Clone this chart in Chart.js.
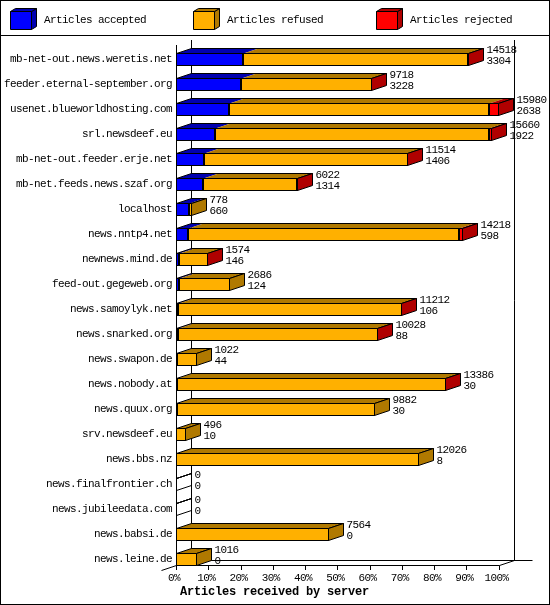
<!DOCTYPE html>
<html lang="en">
<head>
    <meta charset="UTF-8">
    <title>Articles received by server</title>
    <script src="https://cdn.jsdelivr.net/npm/chart.js"></script>
    <style>
        html, body { margin: 0; padding: 0; background: white; }
        canvas { display: block; }
    </style>
</head>
<body>
    <canvas id="serverChart" width="550" height="605" style="width:550px;height:605px"></canvas>

    <script>
        const servers = [
            'mb-net-out.news.weretis.net', 'feeder.eternal-september.org', 'usenet.blueworldhosting.com',
            'srl.newsdeef.eu', 'mb-net-out.feeder.erje.net', 'mb-net.feeds.news.szaf.org', 'localhost',
            'news.nntp4.net', 'newnews.mind.de', 'feed-out.gegeweb.org', 'news.samoylyk.net',
            'news.snarked.org', 'news.swapon.de', 'news.nobody.at', 'news.quux.org', 'srv.newsdeef.eu',
            'news.bbs.nz', 'news.finalfrontier.ch', 'news.jubileedata.com', 'news.babsi.de', 'news.leine.de'
        ];
        const accepted = [3304, 3228, 2638, 1922, 1406, 1314, 660, 598, 146, 124, 106, 88, 44, 30, 30, 10, 8, 0, 0, 0, 0];
        const refused = [11174, 6460, 12882, 13588, 10078, 4683, 118, 13420, 1416, 2562, 11090, 9928, 978, 13346, 9852, 486, 12018, 0, 0, 7564, 1016];
        const rejected = [40, 30, 460, 150, 30, 25, 0, 200, 12, 0, 16, 12, 0, 10, 0, 0, 0, 0, 0, 0, 0];
        const totals = [14518, 9718, 15980, 15660, 11514, 6022, 778, 14218, 1574, 2686, 11212, 10028, 1022, 13386, 9882, 496, 12026, 0, 0, 7564, 1016];
        const percentLabels = ['0%', '10%', '20%', '30%', '40%', '50%', '60%', '70%', '80%', '90%', '100%'];
        const axisTitle = 'Articles received by server';

        const FONT = '11px "Liberation Mono"';
        const BOLD_FONT = 'bold 12px "Liberation Mono"';
        const DEPTH_X = 15;
        const DEPTH_Y = 5;
        const dark = { '#0000ff': '#0000b0', '#ffb000': '#b07900', '#ff0000': '#b00000' };

        function poly(ctx, pts, fill, stroke) {
            ctx.beginPath();
            pts.forEach((p, i) => i ? ctx.lineTo(p[0], p[1]) : ctx.moveTo(p[0], p[1]));
            ctx.closePath();
            if (fill) {
                ctx.fillStyle = fill;
                ctx.fill();
            }
            if (stroke) {
                ctx.strokeStyle = '#000';
                ctx.lineWidth = 1;
                ctx.stroke();
            }
        }

        function line(ctx, x1, y1, x2, y2) {
            ctx.beginPath();
            ctx.moveTo(x1, y1);
            ctx.lineTo(x2, y2);
            ctx.strokeStyle = '#000';
            ctx.lineWidth = 1;
            ctx.stroke();
        }

        // frame, legend and the 3d walls behind the bars
        const backdrop = {
            id: 'backdrop',
            beforeDraw(chart) {
                // squeeze the larger font back to the 6px cell of the original
                chart.ctx.letterSpacing = '-0.6px';
            },
            beforeDatasetsDraw(chart) {
                const ctx = chart.ctx;
                const xs = chart.scales.x;
                const x0 = Math.round(xs.getPixelForValue(0)) + 0.5;
                const x1 = Math.round(xs.getPixelForValue(xs.max)) + 0.5;
                ctx.save();
                ctx.strokeStyle = '#000';
                ctx.strokeRect(0.5, 0.5, 549, 604);
                line(ctx, 0, 35.5, 550, 35.5);

                chart.data.datasets.forEach((ds, i) => {
                    const bx = 10.5 + i * 183;
                    poly(ctx, [[bx + 21, 11.5], [bx + 26, 8.5], [bx + 26, 26.5], [bx + 21, 29.5]], dark[ds.backgroundColor], true);
                    poly(ctx, [[bx, 11.5], [bx + 5, 8.5], [bx + 26, 8.5], [bx + 21, 11.5]], dark[ds.backgroundColor], true);
                    poly(ctx, [[bx, 11.5], [bx + 21, 11.5], [bx + 21, 29.5], [bx, 29.5]], ds.backgroundColor, true);
                    ctx.fillStyle = '#000';
                    ctx.font = FONT;
                    ctx.textAlign = 'left';
                    ctx.textBaseline = 'middle';
                    ctx.fillText(ds.label, 44 + i * 183, 20);
                });

                line(ctx, x0, 45, x0, 565.5);
                line(ctx, x0 + DEPTH_X, 40, x0 + DEPTH_X, 560.5);
                line(ctx, x1 + DEPTH_X, 40, x1 + DEPTH_X, 560.5);
                line(ctx, x0, 565.5, x1, 565.5);
                line(ctx, x0 + DEPTH_X, 560.5, x1 + 33, 560.5);
                line(ctx, x0 - 15, 570.5, x0 + DEPTH_X, 560.5);
                line(ctx, x1, 565.5, x1 + DEPTH_X, 560.5);
                xs.ticks.forEach(t => {
                    const px = Math.round(xs.getPixelForValue(t.value)) + 0.5;
                    line(ctx, px, 565.5, px, 570);
                });

                ctx.fillStyle = '#000';
                ctx.font = BOLD_FONT;
                ctx.letterSpacing = '-0.2px';
                ctx.textAlign = 'left';
                ctx.textBaseline = 'middle';
                ctx.fillText(axisTitle, 180, 592);
                ctx.restore();

                // keep bar edges on whole pixels
                chart.data.datasets.forEach((ds, d) => {
                    chart.getDatasetMeta(d).data.forEach(el => {
                        el.x = Math.round(el.x);
                        el.base = Math.round(el.base);
                    });
                });
            },
            afterDatasetsDraw(chart) {
                const ctx = chart.ctx;
                const sets = chart.data.datasets;
                ctx.save();
                servers.forEach((name, i) => {
                    const first = chart.getDatasetMeta(0).data[i];
                    const top = first.y - first.height / 2 + 0.5;
                    const bottom = first.y + first.height / 2 - 0.5;
                    const start = Math.min(first.base, first.x) + 0.5;
                    let end = start;
                    let lastColor = null;
                    sets.forEach((ds, d) => {
                        if (!ds.data[i]) return;
                        const el = chart.getDatasetMeta(d).data[i];
                        const a = Math.min(el.base, el.x);
                        const b = Math.max(el.base, el.x);
                        poly(ctx, [[a + 0.5, top], [b + 0.5, top], [b + 0.5 + DEPTH_X, top - DEPTH_Y], [a + 0.5 + DEPTH_X, top - DEPTH_Y]], dark[ds.backgroundColor], false);
                        end = b - 0.5;
                        lastColor = dark[ds.backgroundColor];
                    });
                    // outline of the top face and the end face
                    poly(ctx, [[start, top], [end, top], [end + DEPTH_X, top - DEPTH_Y], [start + DEPTH_X, top - DEPTH_Y]], null, true);
                    poly(ctx, [[end, top], [end + DEPTH_X, top - DEPTH_Y], [end + DEPTH_X, bottom - DEPTH_Y], [end, bottom]], lastColor, true);

                    ctx.fillStyle = '#000';
                    ctx.font = FONT;
                    ctx.textAlign = 'left';
                    ctx.textBaseline = 'middle';
                    ctx.fillText(String(totals[i]), end + DEPTH_X + 3, first.y - 9.5);
                    ctx.fillText(String(accepted[i]), end + DEPTH_X + 3, first.y + 1.5);
                });
                ctx.restore();
            }
        };

        new Chart(document.getElementById('serverChart').getContext('2d'), {
            type: 'bar',
            data: {
                labels: servers,
                datasets: [
                    { label: 'Articles accepted', data: accepted, backgroundColor: '#0000ff' },
                    { label: 'Articles refused', data: refused, backgroundColor: '#ffb000' },
                    { label: 'Articles rejected', data: rejected, backgroundColor: '#ff0000' }
                ]
            },
            options: {
                indexAxis: 'y',
                responsive: false,
                animation: false,
                layout: { padding: { top: 59.5, right: 51.5, bottom: 0, left: 0 } },
                datasets: {
                    bar: {
                        barThickness: 13,
                        borderColor: '#000',
                        borderWidth: 1,
                        borderSkipped: false,
                        inflateAmount: 0,
                        clip: false
                    }
                },
                plugins: {
                    legend: { display: false },
                    tooltip: { enabled: false }
                },
                scales: {
                    x: {
                        stacked: true,
                        min: 0,
                        max: 15980,
                        afterFit(scale) { scale.height = 45.5; },
                        afterBuildTicks(scale) {
                            scale.ticks = percentLabels.map((_, i) => ({ value: 1598 * i }));
                        },
                        grid: { display: false, drawTicks: false },
                        border: { display: false },
                        ticks: {
                            autoSkip: false,
                            maxRotation: 0,
                            padding: 12,
                            labelOffset: -2,
                            color: '#000',
                            font: { family: 'Liberation Mono', size: 11 },
                            callback: (value, i) => percentLabels[i]
                        }
                    },
                    y: {
                        stacked: true,
                        offset: false,
                        afterFit(scale) { scale.width = 176; },
                        grid: { display: false, drawTicks: false },
                        border: { display: false },
                        ticks: {
                            autoSkip: false,
                            padding: 4,
                            color: '#000',
                            font: { family: 'Liberation Mono', size: 11 }
                        }
                    }
                }
            },
            plugins: [backdrop]
        });
    </script>
</body>
</html>
